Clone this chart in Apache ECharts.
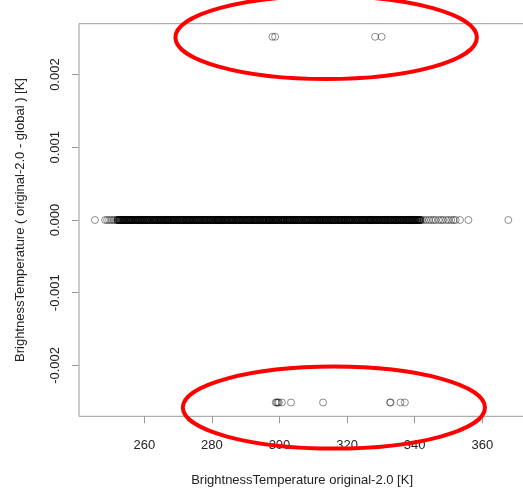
<!DOCTYPE html>
<html>
<head>
<meta charset="utf-8">
<script src="https://cdn.jsdelivr.net/npm/echarts@6/dist/echarts.min.js"></script>
<style>
  html, body { margin: 0; padding: 0; background: #fff; }
  #chart { width: 523px; height: 488px; }
</style>
</head>
<body>
<div id="chart"></div>
<script>
// Brightness temperature (original-2.0) against the difference original-2.0 minus global

// bulk of the samples, all with zero difference
const zeroBandBT = [
  252.0,252.2,252.5,252.7,253.0,253.2,253.5,253.7,254.0,254.2,254.5,254.7,255.0,255.2,255.5,255.7,256.0,256.2,256.5,256.7,
  257.1,257.3,257.6,257.8,258.1,258.3,258.6,258.8,259.1,259.3,259.6,259.8,260.1,260.3,260.6,260.8,261.1,261.3,261.6,261.8,
  262.2,262.4,262.7,262.9,263.2,263.4,263.7,263.9,264.2,264.4,264.7,264.9,265.2,265.4,265.7,265.9,266.2,266.4,266.7,266.9,
  267.0,267.2,267.5,267.7,268.0,268.2,268.5,268.7,269.0,269.2,269.5,269.7,270.0,270.2,270.5,270.7,271.0,271.2,271.5,271.7,
  272.1,272.3,272.6,272.8,273.1,273.3,273.6,273.8,274.1,274.3,274.6,274.8,275.1,275.3,275.6,275.8,276.1,276.3,276.6,276.8,
  277.2,277.4,277.7,277.9,278.2,278.4,278.7,278.9,279.2,279.4,279.7,279.9,280.2,280.4,280.7,280.9,281.2,281.4,281.7,281.9,
  282.0,282.2,282.5,282.7,283.0,283.2,283.5,283.7,284.0,284.2,284.5,284.7,285.0,285.2,285.5,285.7,286.0,286.2,286.5,286.7,
  287.1,287.3,287.6,287.8,288.1,288.3,288.6,288.8,289.1,289.3,289.6,289.8,290.1,290.3,290.6,290.8,291.1,291.3,291.6,291.8,
  292.2,292.4,292.7,292.9,293.2,293.4,293.7,293.9,294.2,294.4,294.7,294.9,295.2,295.4,295.7,295.9,296.2,296.4,296.7,296.9,
  297.0,297.2,297.5,297.7,298.0,298.2,298.5,298.7,299.0,299.2,299.5,299.7,300.0,300.2,300.5,300.7,301.0,301.2,301.5,301.7,
  302.1,302.3,302.6,302.8,303.1,303.3,303.6,303.8,304.1,304.3,304.6,304.8,305.1,305.3,305.6,305.8,306.1,306.3,306.6,306.8,
  307.2,307.4,307.7,307.9,308.2,308.4,308.7,308.9,309.2,309.4,309.7,309.9,310.2,310.4,310.7,310.9,311.2,311.4,311.7,311.9,
  312.0,312.2,312.5,312.7,313.0,313.2,313.5,313.7,314.0,314.2,314.5,314.7,315.0,315.2,315.5,315.7,316.0,316.2,316.5,316.7,
  317.1,317.3,317.6,317.8,318.1,318.3,318.6,318.8,319.1,319.3,319.6,319.8,320.1,320.3,320.6,320.8,321.1,321.3,321.6,321.8,
  322.2,322.4,322.7,322.9,323.2,323.4,323.7,323.9,324.2,324.4,324.7,324.9,325.2,325.4,325.7,325.9,326.2,326.4,326.7,326.9,
  327.0,327.2,327.5,327.7,328.0,328.2,328.5,328.7,329.0,329.2,329.5,329.7,330.0,330.2,330.5,330.7,331.0,331.2,331.5,331.7,
  332.1,332.3,332.6,332.8,333.1,333.3,333.6,333.8,334.1,334.3,334.6,334.8,335.1,335.3,335.6,335.8,336.1,336.3,336.6,336.8,
  337.2,337.4,337.7,337.9,338.2,338.4,338.7,338.9,339.2,339.4,339.7,339.9,340.2,340.4,340.7,340.9,341.2,341.4,341.7
];

// sparser zero-difference samples at both ends of the range
const zeroTailBT = [
  245.4, 248.4, 249.0, 249.6, 250.2, 250.8, 251.3,
  342.1, 342.7, 343.4, 344.2, 344.9, 345.6, 346.2, 347.1, 347.8,
  348.4, 349.3, 350.0, 350.8, 351.5, 352.1, 353.4, 355.9, 367.7
];

// samples with a positive difference
const highBT = [297.9, 298.7, 328.3, 330.2];
const highDiff = 0.00252;

// samples with a negative difference
const lowBT = [298.9, 299.2, 299.5, 299.8, 300.7, 303.4, 312.9, 332.7, 332.9, 335.8, 337.1];
const lowDiff = -0.00251;

// tick positions
const xTicks = [260, 280, 300, 320, 340, 360];
const yTicks = [-0.002, -0.001, 0, 0.001, 0.002];

// highlighted groups: centre and radii in data units
const highlights = [
  { cx: 313.8, cy: 0.00251, rx: 44.6, ry: 0.000571 },
  { cx: 316.1, cy: -0.00258, rx: 44.7, ry: 0.000564 }
];

const bandPoints = zeroBandBT.map(x => [x, 0]);
const otherPoints = []
  .concat(zeroTailBT.map(x => [x, 0]))
  .concat(highBT.map(x => [x, highDiff]))
  .concat(lowBT.map(x => [x, lowDiff]));

const FONT = 'Liberation Sans, Arial, Helvetica, sans-serif';
const chart = echarts.init(document.getElementById('chart'), null, { renderer: 'canvas' });

chart.setOption({
  animation: false,
  backgroundColor: '#fff',
  grid: {
    left: 79, top: 23.7, width: 446.2, height: 392.6,
    outerBoundsMode: 'none',
    show: true, borderColor: '#9a9a9a', borderWidth: 1, backgroundColor: 'transparent'
  },
  xAxis: {
    type: 'value',
    min: 240.68, max: 372.7,
    name: 'BrightnessTemperature original-2.0 [K]',
    nameLocation: 'middle',
    nameGap: 58,
    nameTextStyle: { color: '#222', fontFamily: FONT, fontSize: 13 },
    axisLine: { show: false, onZero: false },
    splitLine: { show: false },
    axisTick: { show: true, length: 7, customValues: xTicks, lineStyle: { color: '#9a9a9a' } },
    axisLabel: { customValues: xTicks, margin: 23, color: '#222', fontFamily: FONT, fontSize: 13 }
  },
  yAxis: {
    type: 'value',
    min: -0.0027, max: 0.0027,
    name: 'BrightnessTemperature ( original-2.0 - global ) [K]',
    nameLocation: 'middle',
    nameGap: 52,
    nameTextStyle: { color: '#222', fontFamily: FONT, fontSize: 13 },
    axisLine: { show: false, onZero: false },
    splitLine: { show: false },
    axisTick: { show: true, length: 7, customValues: yTicks, lineStyle: { color: '#9a9a9a' } },
    axisLabel: {
      customValues: yTicks, rotate: 90, margin: 17,
      color: '#222', fontFamily: FONT, fontSize: 13,
      formatter: v => v.toFixed(3)
    }
  },
  series: [{
    type: 'scatter',
    data: bandPoints,
    symbol: 'circle',
    symbolSize: 7,
    large: false,
    progressive: 0,
    itemStyle: { color: 'rgba(0,0,0,0)', borderColor: '#000', borderWidth: 1 },
    emphasis: { disabled: true }
  }, {
    type: 'scatter',
    data: otherPoints,
    symbol: 'circle',
    symbolSize: 7,
    large: false,
    itemStyle: { color: 'rgba(0,0,0,0)', borderColor: 'rgba(0,0,0,0.55)', borderWidth: 1 },
    emphasis: { disabled: true }
  }]
});

// red ellipses drawn around the non-zero groups
function drawHighlights() {
  const els = highlights.map(h => {
    const c = chart.convertToPixel({ gridIndex: 0 }, [h.cx, h.cy]);
    const ex = chart.convertToPixel({ gridIndex: 0 }, [h.cx + h.rx, h.cy]);
    const ey = chart.convertToPixel({ gridIndex: 0 }, [h.cx, h.cy + h.ry]);
    return {
      type: 'ellipse',
      z: 100,
      silent: true,
      shape: { cx: c[0], cy: c[1], rx: Math.abs(ex[0] - c[0]), ry: Math.abs(c[1] - ey[1]) },
      style: { fill: 'none', stroke: '#ff0000', lineWidth: 4 }
    };
  });
  chart.setOption({ graphic: els });
}
drawHighlights();
</script>
</body>
</html>
